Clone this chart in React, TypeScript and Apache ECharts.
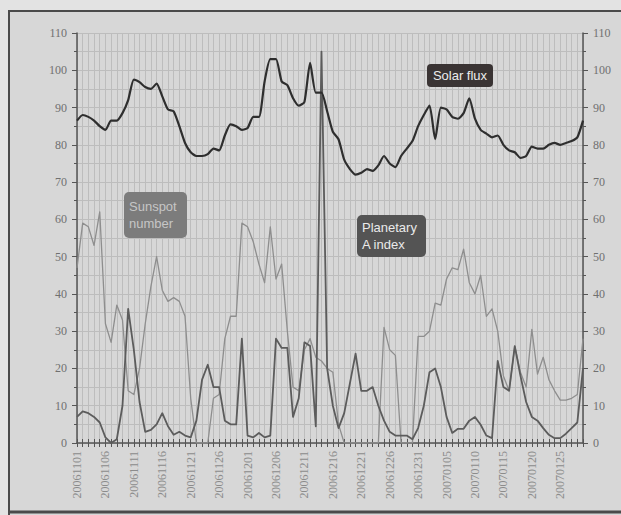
import React, { useEffect, useRef } from "react";
import * as echarts from "echarts";

const dates = [
  "20061101","20061102","20061103","20061104","20061105","20061106","20061107","20061108","20061109","20061110",
  "20061111","20061112","20061113","20061114","20061115","20061116","20061117","20061118","20061119","20061120",
  "20061121","20061122","20061123","20061124","20061125","20061126","20061127","20061128","20061129","20061130",
  "20061201","20061202","20061203","20061204","20061205","20061206","20061207","20061208","20061209","20061210",
  "20061211","20061212","20061213","20061214","20061215","20061216","20061217","20061218","20061219","20061220",
  "20061221","20061222","20061223","20061224","20061225","20061226","20061227","20061228","20061229","20061230",
  "20061231","20070101","20070102","20070103","20070104","20070105","20070106","20070107","20070108","20070109",
  "20070110","20070111","20070112","20070113","20070114","20070115","20070116","20070117","20070118","20070119",
  "20070120","20070121","20070122","20070123","20070124","20070125","20070126","20070127","20070128","20070129",
];

const solarFlux = [
  86.5, 88, 87.5, 86.5, 85, 84, 86.5, 86.5, 88.5, 92,
  97.5, 96.8, 95.5, 95, 96.4, 93, 89.5, 89, 85, 80.5,
  78, 77, 77, 77.5, 79, 78.5, 82.5, 85.5, 85, 84,
  84.5, 87.5, 87.5, 97, 103, 103, 97, 96, 92.5, 90.5,
  91.5, 102, 94, 94, 89, 83.5, 81.5, 76, 73.5, 72,
  72.5, 73.5, 73, 74.5, 77, 75, 74, 77, 79, 81,
  85, 88, 90.5, 81.5, 90, 89.5, 87.5, 87, 88.5, 92.5,
  87, 84, 83, 82, 82.5, 80, 78.5, 78, 76.5, 77,
  79.5, 79, 79, 80, 80.5, 80, 80.5, 81, 82, 86.5,
];

const sunspot = [
  47, 59, 58, 53, 62, 32, 27, 37, 33, 14,
  13, 20, 32, 42, 50, 41, 38, 39, 38, 34,
  12, 0, 0, 0, 12, 13, 28, 34, 34, 59,
  58, 54, 48, 43, 58, 44, 48, 30, 15, 14,
  25, 28, 23, 22, 20, 19, 5, 0, 0, 0,
  0, 0, 0, 0, 31, 25, 23.5, 0, 0, 0,
  28.6, 28.6, 30, 37.5, 37, 44, 47, 46.5, 52, 43,
  40, 45, 34, 36, 30, 18, 14, 26, 19, 15,
  30.5, 18.5, 23, 17, 14, 11.5, 11.5, 12, 13, 28,
];

const planetaryA = [
  7, 8.5, 8, 7, 5.5, 1.5, 0, 1, 10, 36,
  25, 11, 3, 3.5, 5, 8, 4.5, 2.2, 3, 2,
  1.5, 6, 17, 21, 15, 15, 6, 5, 5, 28,
  2, 1.5, 2.7, 1.5, 2, 28, 25.5, 25.5, 7, 12,
  27, 26, 4.5, 105, 20, 10, 4, 8, 16, 24,
  14, 14, 15, 10, 6, 3, 2, 2, 2, 1,
  4, 10, 19, 20, 15, 7, 2.7, 3.8, 3.8, 6,
  7, 4.9, 2, 1.3, 22, 15, 14, 26, 18, 11,
  7, 6, 4, 2.2, 1.3, 1.3, 2.5, 4, 5.5, 20,
];

const yMin = 0;
const yMax = 110;
const yStep = 10;

export default function App() {
  const ref = useRef<HTMLDivElement>(null);
  useEffect(() => {
    if (!ref.current) return;
    const chart = echarts.init(ref.current, null, { renderer: "svg" });
    const gridColor = "#bdbdbd";
    const axisColor = "#555";
    const labelFont = "'Liberation Serif', 'DejaVu Serif', serif";
    const boxFont = "'Liberation Sans', Arial, sans-serif";
    const yAxisCommon = {
      type: "value",
      min: yMin,
      max: yMax,
      interval: yStep,
      axisLine: { show: true, lineStyle: { color: axisColor, width: 1.5 } },
      axisTick: { show: true, length: 5, lineStyle: { color: axisColor } },
      minorTick: { show: true, splitNumber: 2, length: 3, lineStyle: { color: axisColor } },
      axisLabel: { color: "#707070", fontSize: 12, fontFamily: labelFont, margin: 10 },
    };
    const Z = 100;
    chart.setOption({
      animation: false,
      backgroundColor: "#d7d7d7",
      textStyle: { color: "#707070" },
      grid: { left: 77, right: 38, top: 33, bottom: 72, containLabel: false },
      xAxis: [
        {
          type: "category",
          data: dates,
          boundaryGap: false,
          axisLine: { show: true, lineStyle: { color: axisColor, width: 1.5 } },
          axisTick: { show: true, interval: 0, length: 4, lineStyle: { color: axisColor } },
          axisLabel: {
            interval: 4,
            rotate: 90,
            color: "#8c8c8c",
            fontSize: 12,
            fontFamily: labelFont,
            margin: 8,
          },
          splitLine: { show: true, interval: 0, lineStyle: { color: gridColor, width: 1 } },
        },
        {
          type: "category",
          data: dates,
          boundaryGap: false,
          position: "bottom",
          axisLine: { show: false },
          axisTick: { show: true, inside: true, interval: 0, length: 4, lineStyle: { color: axisColor } },
          axisLabel: { show: false },
          splitLine: { show: false },
        },
      ],
      yAxis: [
        {
          ...yAxisCommon,
          position: "left",
          splitLine: { show: true, lineStyle: { color: gridColor, width: 1 } },
          minorSplitLine: { show: true, lineStyle: { color: gridColor, width: 1 } },
        },
        {
          ...yAxisCommon,
          position: "right",
          splitLine: { show: false },
        },
      ],
      series: [
        {
          name: "Sunspot number",
          type: "line",
          data: sunspot,
          showSymbol: false,
          symbol: "none",
          lineStyle: { color: "#8e8e8e", width: 1.3, join: "round" },
          z: 3,
        },
        {
          name: "Planetary A index",
          type: "line",
          data: planetaryA,
          showSymbol: false,
          symbol: "none",
          lineStyle: { color: "#5c5c5c", width: 1.8, join: "round" },
          z: 4,
        },
        {
          name: "Solar flux",
          type: "line",
          data: solarFlux,
          showSymbol: false,
          symbol: "none",
          smooth: 0.2,
          lineStyle: { color: "#2e2e2e", width: 2.2, join: "round" },
          z: 5,
        },
      ],
      graphic: {
        elements: [
          { type: "rect", z: Z, shape: { x: 0, y: 0, width: 621, height: 10 }, style: { fill: "#e3e3e3" }, silent: true },
          { type: "rect", z: Z, shape: { x: 0, y: 0, width: 8, height: 515 }, style: { fill: "#e3e3e3" }, silent: true },
          { type: "line", z: Z, shape: { x1: 8, y1: 11, x2: 621, y2: 11 }, style: { stroke: "#4a4a4a", lineWidth: 2 }, silent: true },
          { type: "line", z: Z, shape: { x1: 9, y1: 10, x2: 9, y2: 515 }, style: { stroke: "#4a4a4a", lineWidth: 2 }, silent: true },
          { type: "line", z: Z, shape: { x1: 8, y1: 512, x2: 621, y2: 512 }, style: { stroke: "#4a4a4a", lineWidth: 3 }, silent: true },
          { type: "rect", z: Z, shape: { x: 427, y: 64, width: 66, height: 23, r: 4 }, style: { fill: "#3a3434" } },
          {
            type: "text",
            z: Z + 1,
            x: 460,
            y: 75.5,
            style: { text: "Solar flux", fill: "#ececec", font: `13px ${boxFont}`, align: "center", verticalAlign: "middle" },
          },
          { type: "rect", z: Z, shape: { x: 124, y: 192, width: 63, height: 46, r: 5 }, style: { fill: "#7c7c7c" } },
          {
            type: "text",
            z: Z + 1,
            x: 129,
            y: 215,
            style: { text: "Sunspot\nnumber", fill: "#c6c6c6", font: `13px ${boxFont}`, lineHeight: 17, align: "left", verticalAlign: "middle" },
          },
          { type: "rect", z: Z, shape: { x: 357, y: 215, width: 69, height: 42, r: 5 }, style: { fill: "#545454" } },
          {
            type: "text",
            z: Z + 1,
            x: 362,
            y: 236,
            style: { text: "Planetary\nA index", fill: "#eaeaea", font: `13px ${boxFont}`, lineHeight: 17, align: "left", verticalAlign: "middle" },
          },
        ],
      },
    });
    return () => chart.dispose();
  }, []);
  return <div ref={ref} style={{ position: "absolute", left: 0, top: 0, width: 621, height: 515 }} />;
}
